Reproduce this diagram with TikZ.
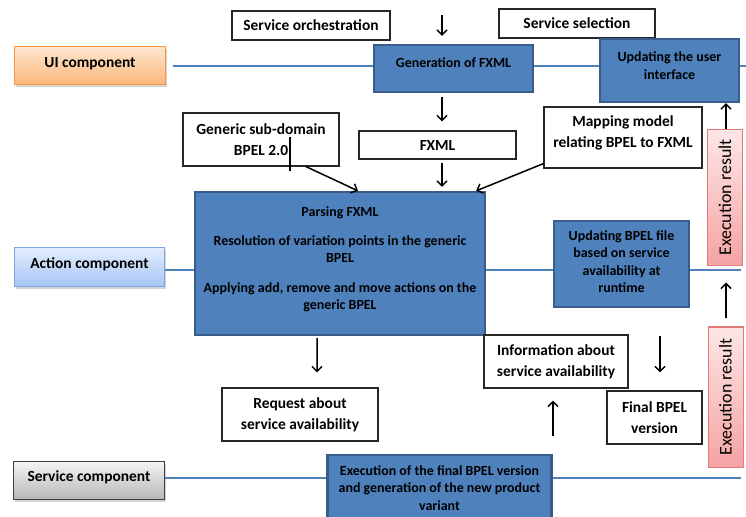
\documentclass[tikz,border=0pt]{standalone}
\usepackage{fontspec}
\setmainfont{Carlito}
\usepackage{xcolor}
\usetikzlibrary{arrows.meta}
\usetikzlibrary{shadows}
\usetikzlibrary{backgrounds}
\definecolor{boxblue}{HTML}{4F81BD}
\definecolor{boxedge}{HTML}{385D8A}
\definecolor{uitop}{HTML}{FDE6D0}
\definecolor{uibot}{HTML}{FBB677}
\definecolor{uiedge}{HTML}{F79646}
\definecolor{acttop}{HTML}{E2EDFD}
\definecolor{actbot}{HTML}{A6C6F6}
\definecolor{actedge}{HTML}{7EA6E0}
\definecolor{svctop}{HTML}{F4F4F4}
\definecolor{svcbot}{HTML}{B8B8B8}
\definecolor{svcedge}{HTML}{404040}
\definecolor{pinktop}{HTML}{FDE6E6}
\definecolor{pinkbot}{HTML}{F5A3A3}
\definecolor{pinkedge}{HTML}{E27A7A}
\newcommand*\whitefont{\fontsize{15.5}{21}\selectfont\bfseries}
\newcommand*\bluefont{\fontsize{14}{17.5}\selectfont\bfseries}
\newcommand*\pinkfont{\fontsize{18}{20}\selectfont}

\begin{document}
\begin{tikzpicture}[x=1bp, y=-1bp,
		box/.style 2 args={minimum width=#1bp, minimum height=#2bp},
		plain/.style={draw=black!85, line width=1.2bp, fill=white, align=center, inner sep=0pt, font=\whitefont},
		task/.style={draw=boxedge, line width=2.2bp, fill=boxblue, align=center, inner sep=0pt, font=\bluefont},
		comp/.style={draw=#1edge, line width=1bp, top color=#1top, bottom color=#1bot, inner sep=0pt, text depth=8bp, font=\whitefont, drop shadow={shadow xshift=1.5bp, shadow yshift=-2.5bp, opacity=.35}},
		result/.style={draw=pinkedge, line width=1bp, top color=pinktop, bottom color=pinkbot, rotate=90, minimum width=#1bp, minimum height=35bp, inner sep=0pt, font=\pinkfont},
		lane/.style={draw=boxblue, line width=1.5bp},
		arr/.style={-{Straight Barb[length=5bp,width=10bp]}, line width=1.5bp}]
		\useasboundingbox (0,0) rectangle (746,517);
		% components
		\node[comp=ui, box={150}{38}] (ui) at (90,66) {UI component};
		\node[comp=act, box={149}{38}] (act) at (89.5,267) {Action component};
		\node[comp=svc, box={150}{38}] (svc) at (89,480) {Service component};
		% UI row
		\node[plain, box={158}{29}] (orch) at (311,25.5) {Service orchestration};
		\node[plain, box={156}{29}] (sel) at (577,23.5) {Service selection};
		\node[task, box={159}{47}, text depth=11bp] (gen) at (453.5,68.5) {Generation of FXML};
		\node[task, box={139}{63}, text depth=10bp] (upui) at (669.5,70.5) {Updating the user\\interface};
		\node[plain, box={157}{28}] (fxml) at (437.5,145) {FXML};
		\node[plain, box={156}{53}] (gsub) at (261,139.5) {Generic sub-domain\\BPEL 2.0};
		\node[plain, box={158}{61}, text depth=11bp] (map) at (623,137.5) {Mapping model\\relating BPEL to FXML};
		\node[result=135] (resA) at (725,197.5) {Execution result};
		% action row
		\node[task, box={290}{143}, text depth=11bp] (pars) at (340,263.5) {Parsing FXML\\[12bp]Resolution of variation points in the generic\\BPEL\\[12bp]Applying add, remove and move actions on the\\generic BPEL};
		\node[task, box={135}{86}, text depth=5bp] (upb) at (621.5,264) {Updating BPEL file\\based on service\\availability at\\runtime};
		\node[plain, box={156}{53}] (req) at (300,414.5) {Request about\\service availability};
		\node[plain, box={144}{53}] (info) at (556,361.5) {Information about\\service availability};
		\node[plain, box={95}{53}] (fin) at (654.5,417.5) {Final BPEL\\version};
		\node[result=140] (resB) at (725.5,397) {Execution result};
		% service row
		\node[task, box={224}{72}, text depth=6bp] (exe) at (439.5,491) {Execution of the final BPEL version\\and generation of the new product\\variant};
		% lanes
		\coordinate (rim) at (741,0);
		\begin{scope}[on background layer]
			\draw[lane] ([xshift=7bp]ui.east) -- ([xshift=7bp]ui.east -| rim);
			\draw[lane] ([yshift=-3bp]act.east) -- ([yshift=-3bp]act.east -| rim);
			\draw[lane] ([yshift=2bp]svc.east) -- ([yshift=2bp]svc.east -| rim);
		\end{scope}
		% arrows
		\coordinate (mid) at (442,15);
		\coordinate (rcol) at (726,0);
		\coordinate (fcol) at (660,0);
		\coordinate (icol) at (553,0);
		\draw[arr, shorten >=8bp] (mid) -- (mid |- gen.north);
		\draw[arr, shorten <=4bp, shorten >=9bp] (gen.south -| mid) -- (fxml.north -| mid);
		\draw[arr, shorten <=3bp, shorten >=4bp] (fxml.south -| mid) -- (pars.north -| mid);
		\draw[arr] ([xshift=45bp]gsub.south) -- ([xshift=18bp]pars.north);
		\draw[arr] ([yshift=5bp]map.south west) -- ([xshift=-10bp]pars.north east);
		\draw[arr] (resA.east -| rcol) -- (upui.south -| rcol);
		\draw[arr, shorten <=8bp, shorten >=17bp] (resB.east -| rcol) -- (resA.west -| rcol);
		\draw[arr, shorten <=2bp, shorten >=15bp] ([xshift=-23bp]pars.south) -- ([xshift=17bp]req.north);
		\draw[arr, shorten <=28bp, shorten >=18bp] (upb.south -| fcol) -- (fin.north -| fcol);
		\draw[arr, shorten <=18bp, shorten >=12bp] (exe.north -| icol) -- (info.south -| icol);
		\draw[line width=1.2bp] (290,137) -- (290,171); % stray mark
\end{tikzpicture}
\end{document}
